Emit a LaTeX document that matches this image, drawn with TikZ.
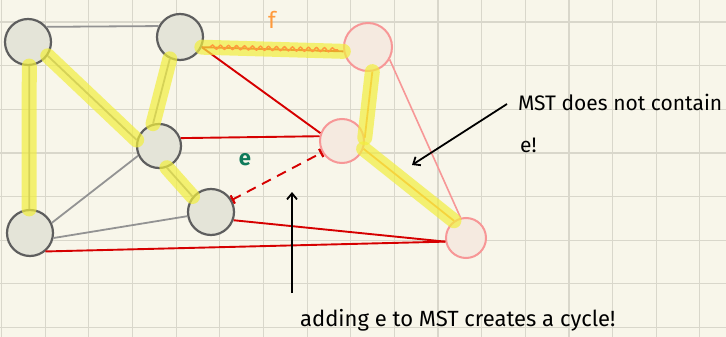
\documentclass[tikz,border=0pt]{standalone}
\usepackage{fontspec}
\setsansfont{Fira Sans}
\usetikzlibrary{arrows.meta, calc, decorations.pathmorphing}
\definecolor{paper}{HTML}{F8F6EA}
\definecolor{gridc}{HTML}{D9D7CB}
\definecolor{gfill}{HTML}{E4E4D8}
\definecolor{gline}{HTML}{5E5E5E}
\definecolor{rfill}{HTML}{F5EAE0}
\definecolor{rline}{HTML}{F79797}
\definecolor{redc}{HTML}{D60000}
\definecolor{orangec}{HTML}{FF9A3C}
\definecolor{hilc}{HTML}{F2EE3E}
\definecolor{greenc}{HTML}{0E7A5A}

\begin{document}
\begin{tikzpicture}[x=1pt, y=-1pt,
    gnode/.style={circle, draw=gline, fill=gfill, line width=2.2pt, minimum size=46pt, inner sep=0pt},
    rnode/.style={circle, draw=rline, fill=rfill, line width=2pt, minimum size=46pt, inner sep=0pt},
    hilite/.style={hilc, opacity=0.7, line width=15pt, line cap=round},
    gedge/.style={draw=gray!85, line width=1.8pt},
    redge/.style={draw=redc, line width=1.9pt},
    oedge/.style={draw=orangec, line width=1.8pt},
    pedge/.style={draw=rline, line width=1.6pt},
    note/.style={font=\sffamily\fontsize{21}{24}\selectfont, inner sep=0pt},
    pointer/.style={-{Straight Barb[length=6pt, width=10pt]}, line width=1.8pt}]
  % paper and grid
  \useasboundingbox (0,0) rectangle (726,337);
  \fill[paper] (0,0) rectangle (726,337);
  \foreach \gx in {0,...,16}{
    \draw[gridc, line width=1.1pt] ({1.5+43.65*\gx},0) -- ++(0,337);
  }
  \foreach \gy in {0,...,7}{
    \draw[gridc, line width=1.1pt] (0,{22+43.65*\gy}) -- ++(726,0);
  }

  % vertices
  \node[gnode] (A) at (28,42) {};
  \node[gnode] (B) at (180,37) {};
  \node[rnode, minimum size=48pt] (C) at (368,47) {};
  \node[gnode, minimum size=44pt] (D) at (159,146) {};
  \node[rnode, minimum size=44pt] (E) at (342,141) {};
  \node[gnode] (F) at (211,212) {};
  \node[gnode] (G) at (30,233) {};
  \node[rnode, minimum size=40pt] (H) at (466,238) {};

  % edges
  \draw[gedge] (A.39) -- (B.153);
  \draw[gedge] (A.-35) -- (D.165);
  \draw[gedge] (A.-87) -- (G.92);
  \draw[gedge] (B.-115) -- (D.105);
  \draw[gedge] (D.-70) -- (F.140);
  \draw[gedge] (D.205) -- (G.25);
  \draw[gedge] (F.190) -- (G.-12);
  \draw[redge] (B.-25) -- (C.190);
  \draw[redge] (B.-25) -- (E.160);
  \draw[redge] (D.20) -- (E.168);
  \draw[redge] (F.-20) -- (H.190);
  \draw[redge] (G.-50) -- (H.190);
  \draw[redge, dash pattern=on 10pt off 7pt] (F.30) -- (E.210);
  \draw[redge, {Bar[width=9pt]}-{Bar[width=9pt]}] (F.30) -- ($(F.30)!2pt!(E.210)$);
  \draw[redge, {Bar[width=9pt]}-{Bar[width=9pt]}] ($(E.210)!2pt!(F.30)$) -- (E.210);
  \draw[oedge] (C.-80) -- (E.8);
  \draw[oedge] (E.-20) -- (H.125);
  \draw[pedge] (C.-30) -- (H.105);

  % MST highlight
  \draw[hilite] (A.-87) -- (G.92);
  \draw[hilite] (A.-35) -- (D.165);
  \draw[hilite] (B.-115) -- (D.105);
  \draw[hilite] (D.-70) -- (F.140);
  \draw[hilite] (B.-25) -- (C.190);
  \draw[hilite] (C.-80) -- (E.8);
  \draw[hilite] (E.-20) -- (H.125);

  % f squiggle
  \draw[orangec, line width=1.5pt, decorate,
        decoration={snake, amplitude=2pt, segment length=8pt}] (210,47) -- (338,50);
  \node[orangec, font=\sffamily\fontsize{23}{26}\selectfont] (flbl) at (272,20) {f};
  \node[greenc, font=\sffamily\bfseries\fontsize{22}{26}\selectfont] (elbl) at (245,160) {e};

  % notes
  \node[note, anchor=west] (note1) at (518,102) {MST does not contain};
  \node[note, anchor=west] (note2) at (520,145) {e!};
  \coordinate (tip1) at (412,165);
  \draw[pointer] (507,104) -- (tip1);
  \node[note, font=\sffamily\fontsize{22}{26}\selectfont, anchor=west] (note3) at (300,320) {adding e to MST creates a cycle!};
  \coordinate (tail2) at (292,293);
  \coordinate (tip2) at (292,192);
  \draw[pointer] (tail2) -- (tip2);
\end{tikzpicture}
\end{document}
